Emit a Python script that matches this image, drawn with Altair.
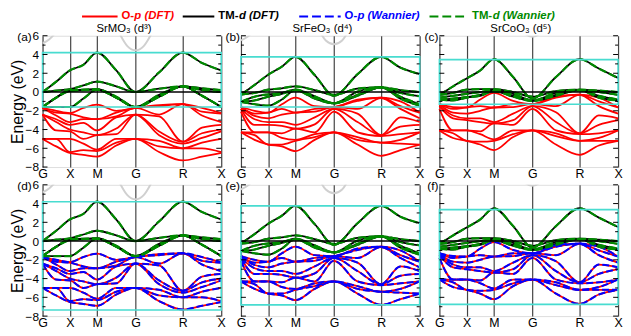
import altair as alt
import pandas as pd

FONT = "Liberation Sans"

# high-symmetry path
K_NAMES = ["G", "X", "M", "G", "R", "X"]
K_SYM = [0.0, 0.5, 1.0, 1.707, 2.573, 3.280]
# sampled k points: G, G-X, X, X-M, M, M-G, G, G-R, R, R-X, X
K_PTS = [0.0, 0.25, 0.5, 0.75, 1.0, 1.354, 1.707, 2.14, 2.573, 2.927, 3.280]

TITLES = ["SrMO₃ (d³)", "SrFeO₃ (d⁴)", "SrCoO₃ (d⁵)"]
TAGS_TOP = ["(a)", "(b)", "(c)"]
TAGS_BOTTOM = ["(d)", "(e)", "(f)"]

# O-p bands (eV): one row per sampled k point, 9 bands each
OP_A = [
    [-1.7, -1.7, -1.7, -2.4, -2.4, -2.4, -5.0, -5.0, -5.0],
    [-2.0, -2.2, -2.5, -2.9, -3.2, -4.1, -5.0, -5.0, -5.8],
    [-2.25, -2.3, -3.2, -3.5, -4.0, -4.2, -5.0, -6.4, -6.5],
    [-1.7, -2.7, -2.9, -3.3, -4.3, -5.0, -5.5, -6.2, -6.7],
    [-1.35, -2.9, -2.9, -4.1, -4.6, -4.6, -6.15, -6.3, -6.9],
    [-2.0, -2.2, -2.6, -2.7, -3.9, -4.5, -5.0, -5.4, -5.7],
    [-1.7, -1.7, -1.7, -2.4, -2.4, -2.4, -5.0, -5.0, -5.0],
    [-1.4, -1.5, -2.4, -2.6, -4.2, -4.6, -5.2, -5.8, -6.4],
    [-1.3, -1.3, -1.3, -5.3, -5.3, -5.5, -6.0, -6.0, -7.3],
    [-1.7, -2.1, -2.5, -3.8, -4.4, -4.9, -5.4, -6.0, -6.9],
    [-2.25, -2.3, -3.2, -3.5, -4.0, -4.2, -5.0, -6.4, -6.5],
]
OP_B = [
    [-1.6, -1.6, -1.6, -1.8, -1.8, -2.1, -4.3, -4.3, -4.3],
    [-2.0, -2.3, -2.55, -2.9, -3.5, -4.3, -4.3, -4.6, -5.1],
    [-2.2, -2.2, -2.8, -3.2, -3.5, -4.3, -4.3, -5.6, -5.6],
    [-1.3, -1.8, -2.4, -3.2, -3.6, -4.4, -4.9, -5.6, -5.8],
    [-0.6, -2.2, -2.2, -3.5, -3.9, -3.9, -5.1, -5.2, -6.3],
    [-1.5, -1.8, -2.1, -2.7, -3.45, -4.3, -4.5, -4.8, -5.1],
    [-1.6, -1.6, -1.6, -1.8, -1.8, -2.1, -4.3, -4.3, -4.3],
    [-0.8, -0.95, -1.8, -2.3, -3.2, -4.3, -4.8, -5.1, -5.6],
    [-0.6, -0.6, -0.65, -4.6, -4.6, -4.7, -5.4, -5.4, -6.8],
    [-1.0, -1.5, -1.8, -2.7, -3.7, -4.5, -5.1, -5.5, -6.2],
    [-2.2, -2.2, -2.8, -3.2, -3.5, -4.3, -4.3, -5.6, -5.6],
]
OP_C = [
    [-1.3, -1.3, -1.3, -1.5, -1.5, -1.8, -4.1, -4.1, -4.1],
    [-1.6, -1.8, -2.2, -2.5, -2.8, -4.1, -4.1, -4.4, -4.9],
    [-1.65, -1.65, -2.3, -2.8, -3.0, -4.1, -4.1, -5.2, -5.2],
    [-0.8, -1.5, -2.0, -2.8, -3.2, -4.2, -4.5, -5.3, -5.6],
    [-0.1, -1.65, -1.65, -3.2, -3.35, -3.35, -5.05, -5.2, -6.2],
    [-0.95, -1.3, -1.6, -2.3, -3.0, -3.5, -4.1, -4.5, -4.8],
    [-1.3, -1.3, -1.3, -1.5, -1.5, -1.8, -4.1, -4.1, -4.1],
    [-0.45, -0.6, -1.5, -2.15, -3.2, -4.1, -4.4, -4.7, -5.6],
    [-0.27, -0.27, -0.3, -4.4, -4.4, -4.5, -5.2, -5.2, -6.7],
    [-0.6, -1.0, -1.5, -2.5, -3.5, -4.4, -4.9, -5.2, -5.7],
    [-1.65, -1.65, -2.3, -2.8, -3.0, -4.1, -4.1, -5.2, -5.2],
]

# TM-d bands (eV): one list per band, values at K_PTS
TMD_A = [
    [0.0, 1.1, 2.3, 2.9, 4.2, 2.3, 0.0, 2.1, 4.2, 3.1, 2.3],
    [0.0, 0.15, 0.3, 0.7, 1.1, 0.6, 0.0, 0.35, 0.6, 0.4, 0.2],
    [-1.6, -0.6, 0.2, 0.25, 0.3, -0.5, -1.6, -0.3, 0.6, 0.2, 0.0],
    [-1.6, -0.6, 0.1, 0.2, 0.25, -0.6, -1.6, -0.5, 0.6, -0.4, -1.6],
    [-1.6, -1.6, -1.6, -0.7, 0.25, -0.6, -1.6, -0.5, 0.6, -0.4, -1.6],
]
TMD_B = [
    [-0.27, 0.75, 1.85, 2.7, 3.75, 1.8, -0.4, 1.9, 3.75, 2.6, 1.9],
    [-0.27, -0.1, 0.25, 0.4, 0.6, 0.2, -0.3, 0.35, 0.5, 0.2, 0.0],
    [-1.05, -0.5, -0.25, -0.1, 0.25, -0.45, -1.2, 0.05, 0.5, -0.1, -0.45],
    [-1.05, -0.9, -0.5, -0.2, 0.2, -0.6, -1.2, -0.3, 0.5, -0.5, -1.3],
    [-1.05, -1.3, -1.45, -0.8, 0.2, -0.7, -1.2, -0.4, 0.5, -0.7, -1.45],
]
TMD_C = [
    [-0.3, 0.6, 1.45, 2.3, 3.5, 1.6, -0.7, 1.6, 3.5, 2.5, 1.5],
    [-0.3, -0.1, 0.25, 0.3, 0.3, 0.0, -0.5, 0.1, 0.25, 0.15, 0.0],
    [-0.6, -0.4, -0.2, 0.0, 0.2, -0.2, -0.9, -0.1, 0.2, 0.0, -0.3],
    [-0.8, -0.7, -0.55, -0.3, 0.1, -0.4, -0.9, -0.3, 0.2, -0.4, -0.8],
    [-0.8, -0.9, -0.6, -0.4, 0.1, -0.5, -0.95, -0.4, 0.2, -0.6, -0.9],
]

# faint high-lying bands (partly above 6 eV)
HI_K_LEFT = [0.0, 0.12, 0.25]
HI_K_MID = [1.407, 1.557, 1.707, 1.857, 2.007]
HI_LEFT = [[5.2, 5.6, 6.4], [5.5, 5.9, 6.6], [5.9, 6.2, 6.8]]
HI_MID = [[6.3, 4.9, 4.45, 4.9, 6.3], [6.9, 5.5, 5.1, 5.5, 6.9], [7.5, 6.3, 5.9, 6.3, 7.5]]

# energy windows (eV)
WIN_TOP_LO = [-1.6, -1.6, -1.3]
WIN_TOP_HI = [4.2, 3.75, 3.45]
WIN_BOT_LO = [-7.35, -6.8, -6.75]
WIN_BOT_HI = [4.2, 3.75, 3.35]

Y_MAJOR = [-8, -6, -4, -2, 0, 2, 4, 6]
Y_MINOR = [-7, -5, -3, -1, 1, 3, 5]

OP = [OP_A, OP_B, OP_C]
TMD = [TMD_A, TMD_B, TMD_C]

W, H = 181, 133
RED, BLACK, BLUE, GREEN, CYAN = "#ff0000", "#000000", "#0000ff", "#008a00", "#48dcd0"

XS = alt.Scale(domain=[0, 3.28], nice=False, zero=False)
YS = alt.Scale(domain=[-8, 6], nice=False, zero=False)
label_expr = "".join(
    f"abs(datum.value - {v}) < 0.01 ? '{n}' : " for v, n in zip(K_SYM, K_NAMES)
) + "''"
XAX = alt.Axis(values=K_SYM, labelExpr=label_expr, grid=True, gridColor="#444444",
               gridWidth=1.2, ticks=False, domain=False, labelFontSize=12.5,
               labelPadding=1, labelColor="black", labelFlush=False,
               labelOverlap=False, title=None, labelFont=FONT)
YAX_L = alt.Axis(values=Y_MAJOR, grid=False, ticks=False, domain=False,
                 labelFontSize=12, labelPadding=4, labelColor="black",
                 labelFont=FONT, title="Energy (eV)", titleFontSize=16,
                 titleFontWeight="normal", titlePadding=0, titleColor="black",
                 titleFont=FONT)


def band_df(bands):
    recs = []
    for b, vals in enumerate(bands):
        for k, e in zip(K_PTS, vals):
            recs.append({"band": b, "k": k, "E": e})
    return pd.DataFrame(recs)


def one():
    return alt.Chart(pd.DataFrame({"v": [0]}))


def panel(i, row):
    yax = YAX_L if i == 0 else None
    X = lambda f: alt.X(f, scale=XS, axis=XAX)
    Y = lambda f: alt.Y(f, scale=YS, axis=yax)

    p_df = band_df([list(b) for b in zip(*OP[i])])
    d_df = band_df(TMD[i])
    hi_df = pd.DataFrame(
        [{"band": 0, "k": k, "E": e} for k, e in zip(HI_K_LEFT, HI_LEFT[i])]
        + [{"band": 1, "k": k, "E": e} for k, e in zip(HI_K_MID, HI_MID[i])]
    )
    lo = (WIN_TOP_LO if row == 0 else WIN_BOT_LO)[i]
    hi = (WIN_TOP_HI if row == 0 else WIN_BOT_HI)[i]
    win_df = pd.DataFrame({"k0": [K_SYM[0]], "k1": [K_SYM[-1]], "lo": [lo], "hi": [hi]})

    layers = []
    layers.append(alt.Chart(hi_df).mark_line(color="#d0d0d0", strokeWidth=2, clip=True,
                                             interpolate="monotone")
                  .encode(x=X("k:Q"), y=Y("E:Q"), detail="band:N"))
    layers.append(alt.Chart(p_df).mark_line(color=RED, strokeWidth=1.8, interpolate="monotone")
                  .encode(x=X("k:Q"), y=Y("E:Q"), detail="band:N"))
    layers.append(alt.Chart(d_df).mark_line(color=BLACK, strokeWidth=1.8, interpolate="monotone")
                  .encode(x=X("k:Q"), y=Y("E:Q"), detail="band:N"))
    if row == 1:
        layers.append(alt.Chart(p_df).mark_line(color=BLUE, strokeWidth=2, strokeDash=[7, 3],
                                                interpolate="monotone")
                      .encode(x=X("k:Q"), y=Y("E:Q"), detail="band:N"))
    layers.append(alt.Chart(d_df).mark_line(color=GREEN, strokeWidth=2.2, strokeDash=[8, 3],
                                            interpolate="monotone")
                  .encode(x=X("k:Q"), y=Y("E:Q"), detail="band:N"))
    layers.append(one().mark_rule(color="black", strokeWidth=1.5)
                  .encode(y=alt.Y(datum=0, scale=YS, axis=yax)))
    layers.append(alt.Chart(win_df).mark_rect(filled=False, stroke=CYAN, strokeWidth=1.6)
                  .encode(x=X("k0:Q"), x2="k1:Q", y=Y("lo:Q"), y2="hi:Q"))
    for vals, ln in ((Y_MAJOR, 5), (Y_MINOR, 3)):
        tdf = pd.DataFrame({"E": vals})
        layers.append(alt.Chart(tdf).mark_rule(color="black", strokeWidth=1)
                      .encode(y=Y("E:Q"), x=alt.value(0), x2=alt.value(ln)))
        layers.append(alt.Chart(tdf).mark_rule(color="black", strokeWidth=1)
                      .encode(y=Y("E:Q"), x=alt.value(W - ln), x2=alt.value(W)))

    tag = (TAGS_TOP if row == 0 else TAGS_BOTTOM)[i]
    layers.append(one().mark_text(font=FONT, fontSize=12, align="right", baseline="middle",
                                  color="black")
                  .encode(x=alt.value(-11 if i == 0 else -1), y=alt.value(1), text=alt.value(tag)))
    if row == 0:
        layers.append(one().mark_text(font=FONT, fontSize=11.5, align="center",
                                      baseline="middle", color="black")
                      .encode(x=alt.value(W / 2 - 8), y=alt.value(-7), text=alt.value(TITLES[i])))
    if row == 0 and i == 0:
        legend = [
            (40, 76, "O-", "p (DFT)", RED, 13, False),
            (142, 174, "TM-", "d (DFT)", BLACK, 21, False),
            (260, 302, "O-", "p (Wannier)", BLUE, 13, True),
            (392, 431, "TM-", "d (Wannier)", GREEN, 21, True),
        ]
        ly = -19.5
        for x0, x1, t1, t2, col, off, dashed in legend:
            kw = {"strokeDash": [9, 4]} if dashed else {}
            layers.append(one().mark_rule(color=col, strokeWidth=2, **kw)
                          .encode(x=alt.value(x0), x2=alt.value(x1), y=alt.value(ly)))
            layers.append(one().mark_text(font=FONT, fontSize=11.5, fontWeight="bold",
                                          align="left", baseline="middle", color=col)
                          .encode(x=alt.value(x1 + 4), y=alt.value(ly), text=alt.value(t1)))
            layers.append(one().mark_text(font=FONT, fontSize=11.5, fontWeight="bold",
                                          fontStyle="italic", align="left", baseline="middle",
                                          color=col)
                          .encode(x=alt.value(x1 + 4 + off), y=alt.value(ly), text=alt.value(t2)))

    return alt.layer(*layers).properties(width=W, height=H)


panels = [panel(i, r) for r in range(2) for i in range(3)]
chart = (
    alt.concat(*panels, columns=3, spacing={"row": 18, "column": 20}, bounds="flush")
    .properties(padding=0)
    .configure_view(stroke="black", strokeWidth=1.2)
    .configure(font=FONT, background="white")
)

chart.save("out.html", embed_options={"renderer": "svg", "actions": False})
